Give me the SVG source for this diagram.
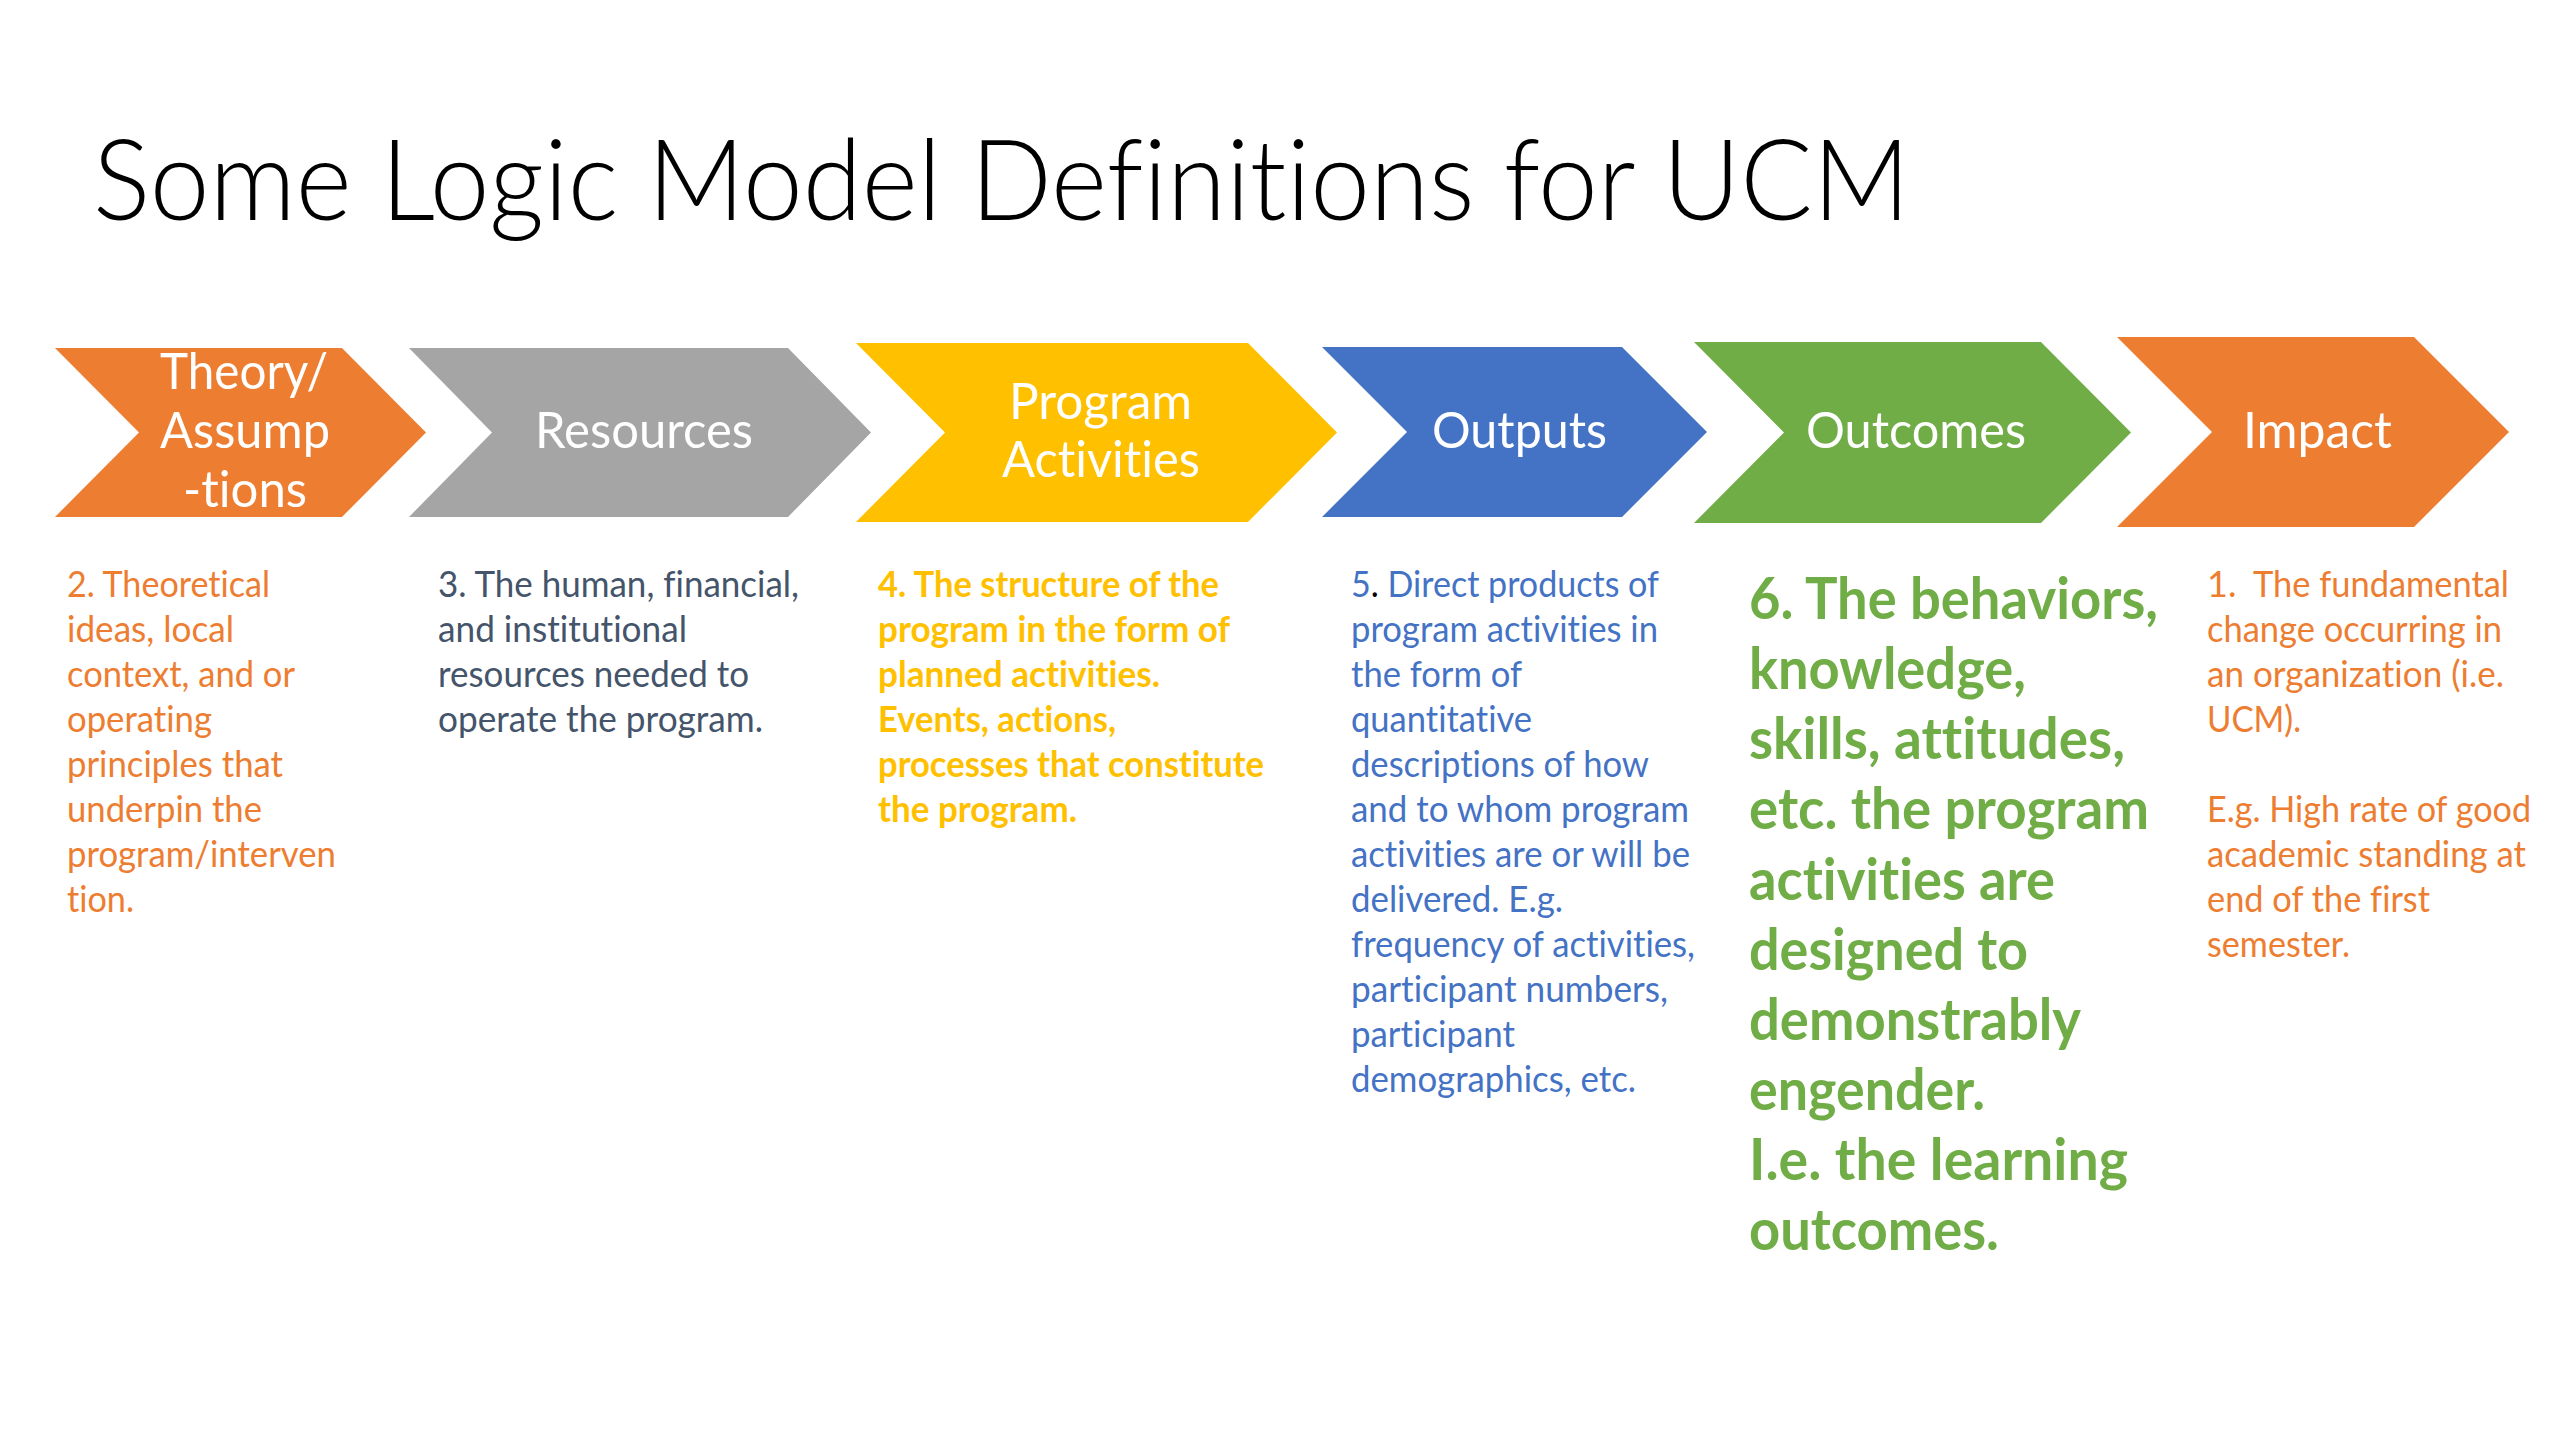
<svg xmlns="http://www.w3.org/2000/svg" width="2560" height="1440" viewBox="0 0 2560 1440">
<style>
text{font-variant-ligatures:none;font-feature-settings:"liga" 0,"clig" 0,"dlig" 0}
.lbl{font-family:Lato,"Liberation Sans",sans-serif;font-size:50px;fill:#fff}
.body{font-family:Lato,"Liberation Sans",sans-serif;font-size:36px}
.bold{font-weight:bold}
.green{font-family:Lato,"Liberation Sans",sans-serif;font-size:57px;font-weight:bold;fill:#70AD47}
.title{font-family:Lato,"Liberation Sans",sans-serif;font-size:112px;font-weight:300;fill:#000}
</style>
<rect width="2560" height="1440" fill="#fff"/>
<text class="title" x="93" y="220" textLength="1817" lengthAdjust="spacingAndGlyphs">Some Logic Model Definitions for UCM</text>
<g id="connectors"/>
<g id="node-theory">
<polygon points="55,348 342,348 426,432.5 342,517 55,517 139,432.5" fill="#ED7D31"/>
<text class="lbl" x="160" y="389" textLength="168" lengthAdjust="spacingAndGlyphs">Theory/</text>
<text class="lbl" x="160" y="448" textLength="170" lengthAdjust="spacingAndGlyphs">Assump</text>
<text class="lbl" x="183" y="507" textLength="124" lengthAdjust="spacingAndGlyphs">-tions</text>
</g>
<g id="node-resources">
<polygon points="409,348 788,348 871,432.5 788,517 409,517 492,432.5" fill="#A5A5A5"/>
<text class="lbl" x="535" y="448" textLength="218" lengthAdjust="spacingAndGlyphs">Resources</text>
</g>
<g id="node-activities">
<polygon points="856,343 1248,343 1337,432.5 1248,522 856,522 945,432.5" fill="#FFC000"/>
<text class="lbl" x="1009" y="419" textLength="183" lengthAdjust="spacingAndGlyphs">Program</text>
<text class="lbl" x="1002" y="477" textLength="198" lengthAdjust="spacingAndGlyphs">Activities</text>
</g>
<g id="node-outputs">
<polygon points="1322,347 1622,347 1707,432 1622,517 1322,517 1407,432" fill="#4472C4"/>
<text class="lbl" x="1432" y="448" textLength="175" lengthAdjust="spacingAndGlyphs">Outputs</text>
</g>
<g id="node-outcomes">
<polygon points="1694,342 2041,342 2131,432.5 2041,523 1694,523 1784,432.5" fill="#70AD47"/>
<text class="lbl" x="1806" y="448" textLength="220" lengthAdjust="spacingAndGlyphs">Outcomes</text>
</g>
<g id="node-impact">
<polygon points="2117,337 2414,337 2509,432 2414,527 2117,527 2212,432" fill="#ED7D31"/>
<text class="lbl" x="2243" y="448" textLength="149" lengthAdjust="spacingAndGlyphs">Impact</text>
</g>
<g id="text-theory" class="body" fill="#ED7D31">
<text x="67" y="597" textLength="203" lengthAdjust="spacingAndGlyphs">2. Theoretical</text>
<text x="67" y="642" textLength="167" lengthAdjust="spacingAndGlyphs">ideas, local</text>
<text x="67" y="687" textLength="228" lengthAdjust="spacingAndGlyphs">context, and or</text>
<text x="67" y="732" textLength="145" lengthAdjust="spacingAndGlyphs">operating</text>
<text x="67" y="777" textLength="216" lengthAdjust="spacingAndGlyphs">principles that</text>
<text x="67" y="822" textLength="195" lengthAdjust="spacingAndGlyphs">underpin the</text>
<text x="67" y="867" textLength="269" lengthAdjust="spacingAndGlyphs">program/interven</text>
<text x="67" y="912" textLength="67" lengthAdjust="spacingAndGlyphs">tion.</text>
</g>
<g id="text-resources" class="body" fill="#44546A">
<text x="438" y="597" textLength="361" lengthAdjust="spacingAndGlyphs">3. The human, financial,</text>
<text x="438" y="642" textLength="249" lengthAdjust="spacingAndGlyphs">and institutional</text>
<text x="438" y="687" textLength="311" lengthAdjust="spacingAndGlyphs">resources needed to</text>
<text x="438" y="732" textLength="325" lengthAdjust="spacingAndGlyphs">operate the program.</text>
</g>
<g id="text-activities" class="body bold" fill="#FFC000">
<text x="878" y="597" textLength="341" lengthAdjust="spacingAndGlyphs">4. The structure of the</text>
<text x="878" y="642" textLength="352" lengthAdjust="spacingAndGlyphs">program in the form of</text>
<text x="878" y="687" textLength="282" lengthAdjust="spacingAndGlyphs">planned activities.</text>
<text x="878" y="732" textLength="238" lengthAdjust="spacingAndGlyphs">Events, actions,</text>
<text x="878" y="777" textLength="386" lengthAdjust="spacingAndGlyphs">processes that constitute</text>
<text x="878" y="822" textLength="199" lengthAdjust="spacingAndGlyphs">the program.</text>
</g>
<g id="text-outputs" class="body" fill="#4472C4">
<text x="1351" y="597" textLength="308" lengthAdjust="spacingAndGlyphs">5<tspan fill="#000">.</tspan> Direct products of</text>
<text x="1351" y="642" textLength="307" lengthAdjust="spacingAndGlyphs">program activities in</text>
<text x="1351" y="687" textLength="171" lengthAdjust="spacingAndGlyphs">the form of</text>
<text x="1351" y="732" textLength="181" lengthAdjust="spacingAndGlyphs">quantitative</text>
<text x="1351" y="777" textLength="298" lengthAdjust="spacingAndGlyphs">descriptions of how</text>
<text x="1351" y="822" textLength="338" lengthAdjust="spacingAndGlyphs">and to whom program</text>
<text x="1351" y="867" textLength="339" lengthAdjust="spacingAndGlyphs">activities are or will be</text>
<text x="1351" y="912" textLength="212" lengthAdjust="spacingAndGlyphs">delivered. E.g.</text>
<text x="1351" y="957" textLength="344" lengthAdjust="spacingAndGlyphs">frequency of activities,</text>
<text x="1351" y="1002" textLength="317" lengthAdjust="spacingAndGlyphs">participant numbers,</text>
<text x="1351" y="1047" textLength="164" lengthAdjust="spacingAndGlyphs">participant</text>
<text x="1351" y="1092" textLength="285" lengthAdjust="spacingAndGlyphs">demographics, etc.</text>
</g>
<g id="text-outcomes" class="green">
<text x="1749" y="619" textLength="409" lengthAdjust="spacingAndGlyphs">6. The behaviors,</text>
<text x="1749" y="689" textLength="277" lengthAdjust="spacingAndGlyphs">knowledge,</text>
<text x="1749" y="759" textLength="376" lengthAdjust="spacingAndGlyphs">skills, attitudes,</text>
<text x="1749" y="829" textLength="400" lengthAdjust="spacingAndGlyphs">etc. the program</text>
<text x="1749" y="900" textLength="306" lengthAdjust="spacingAndGlyphs">activities are</text>
<text x="1749" y="970" textLength="279" lengthAdjust="spacingAndGlyphs">designed to</text>
<text x="1749" y="1040" textLength="332" lengthAdjust="spacingAndGlyphs">demonstrably</text>
<text x="1749" y="1110" textLength="236" lengthAdjust="spacingAndGlyphs">engender.</text>
<text x="1749" y="1180" textLength="379" lengthAdjust="spacingAndGlyphs">I.e. the learning</text>
<text x="1749" y="1250" textLength="250" lengthAdjust="spacingAndGlyphs">outcomes.</text>
</g>
<g id="text-impact" class="body" fill="#ED7D31">
<text x="2207" y="597">1.</text>
<text x="2253" y="597" textLength="256" lengthAdjust="spacingAndGlyphs">The fundamental</text>
<text x="2207" y="642" textLength="295" lengthAdjust="spacingAndGlyphs">change occurring in</text>
<text x="2207" y="687" textLength="297" lengthAdjust="spacingAndGlyphs">an organization (i.e.</text>
<text x="2207" y="732" textLength="94" lengthAdjust="spacingAndGlyphs">UCM).</text>
<text x="2207" y="822" textLength="324" lengthAdjust="spacingAndGlyphs">E.g. High rate of good</text>
<text x="2207" y="867" textLength="319" lengthAdjust="spacingAndGlyphs">academic standing at</text>
<text x="2207" y="912" textLength="223" lengthAdjust="spacingAndGlyphs">end of the first</text>
<text x="2207" y="957" textLength="143" lengthAdjust="spacingAndGlyphs">semester.</text>
</g>
</svg>
